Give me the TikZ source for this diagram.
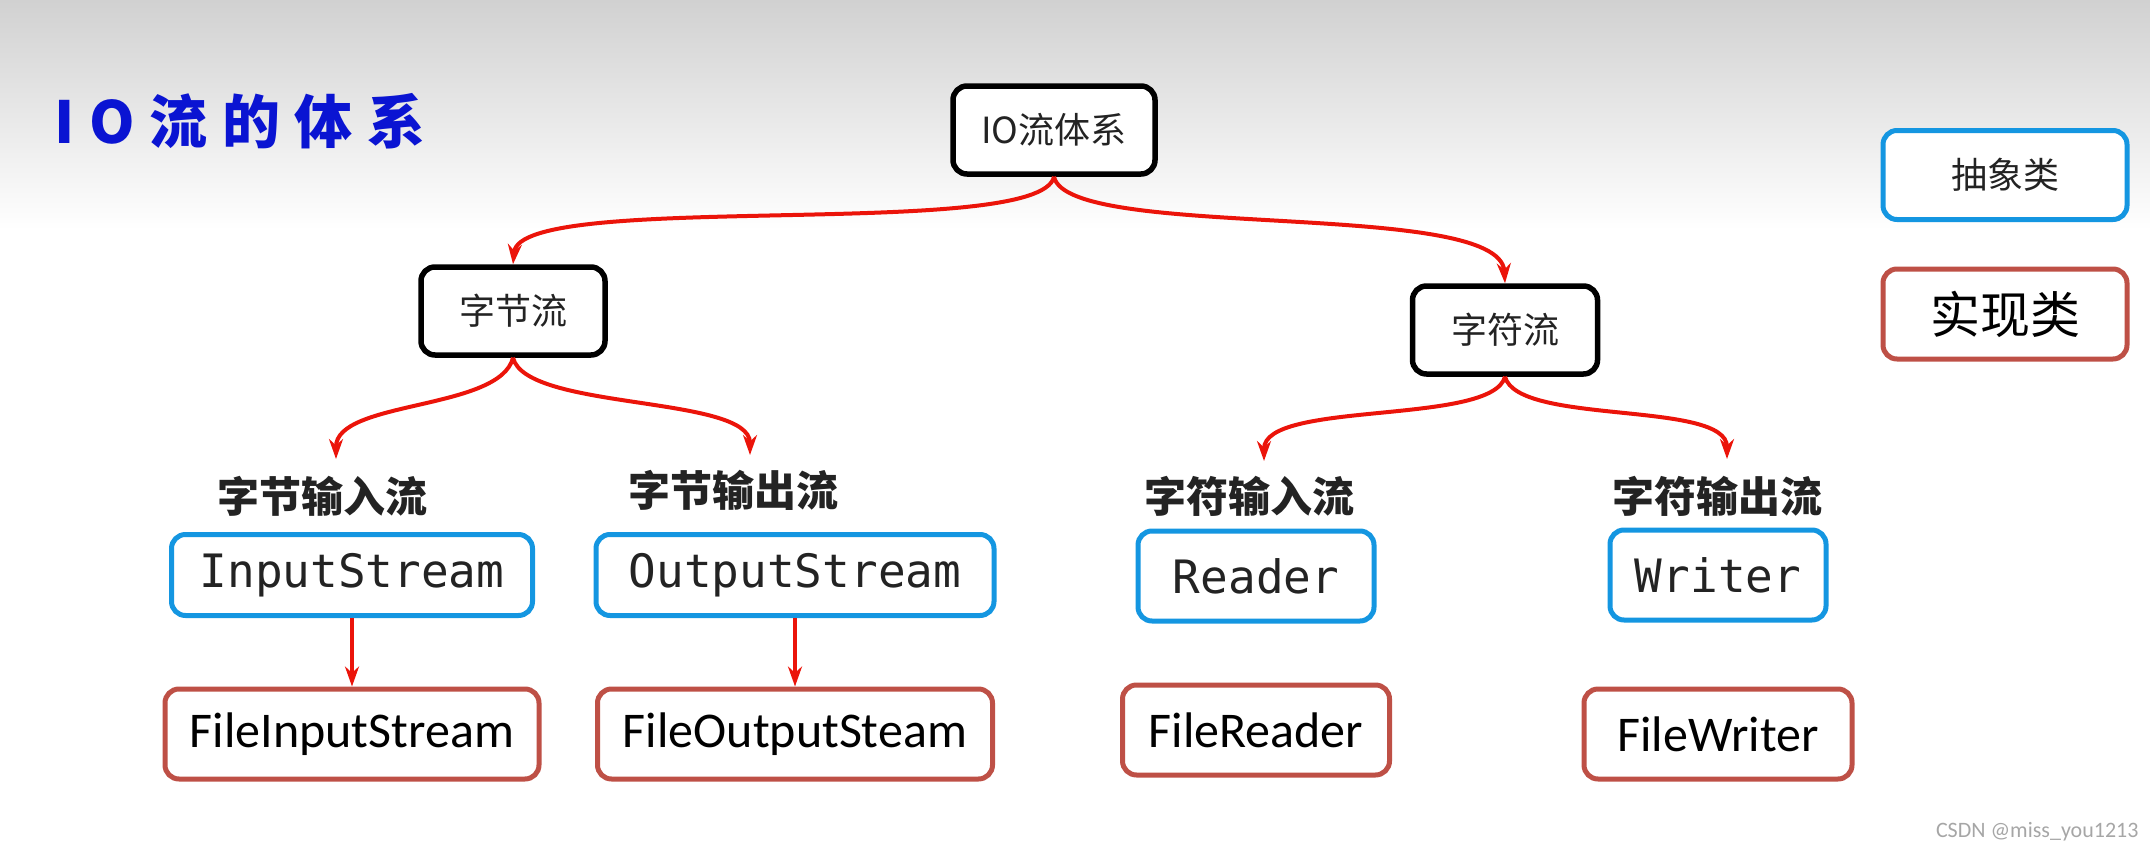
\documentclass[tikz,border=0pt]{standalone}
\usepackage{fontspec}
\newfontfamily\cjk{Noto Sans CJK SC}
\newfontfamily\cjktitle[LetterSpace=25]{Noto Sans CJK SC}
\newfontfamily\codefont{DejaVu Sans Mono}
\newfontfamily\implfont{Carlito}
\usetikzlibrary{arrows.meta}
\definecolor{abstractblue}{RGB}{20,150,225}
\definecolor{implred}{RGB}{190,80,70}
\definecolor{linkred}{RGB}{235,20,10}
\definecolor{titleblue}{RGB}{10,20,210}
\definecolor{boxtext}{RGB}{35,35,35}

\begin{document}
\begin{tikzpicture}[x=1pt,y=-1pt,>={Stealth[length=20pt,width=14pt]},
  group node/.style={draw=black,line width=5.5pt,rounded corners=14pt,fill=white,
    font=\cjk\fontsize{36}{42}\selectfont,text=boxtext,minimum height=88pt},
  abstract node/.style={draw=abstractblue,line width=5pt,rounded corners=14pt,fill=white,
    text=boxtext,minimum height=84pt},
  impl node/.style={draw=implred,line width=5pt,rounded corners=14pt,fill=white,
    text=black,minimum height=90pt},
  label node/.style={font=\cjk\bfseries\fontsize{42}{50}\selectfont,text=boxtext},
  link/.style={->,draw=linkred,line width=4pt}]
  \useasboundingbox (0,0) rectangle (2150,854);
  \fill[top color=black!18,bottom color=white] (0,0) rectangle (2150,230);

  \node[font=\cjktitle\bfseries\fontsize{58}{66}\selectfont,text=titleblue] (title) at (240,121) {IO流的体系};

  \node[group node,minimum width=202pt] (io)   at (1054,130) {IO流体系};
  \node[group node,minimum width=184pt] (byte) at (513,311)  {字节流};
  \node[group node,minimum width=185pt] (char) at (1505,330) {字符流};

  \node[abstract node,minimum width=244pt,minimum height=89pt,
    font=\cjk\fontsize{36}{42}\selectfont] (abstract) at (2005,175) {抽象类};
  \node[impl node,minimum width=244pt,
    font=\cjk\fontsize{50}{58}\selectfont] (impl) at (2005,314) {实现类};

  \node[label node] (byteIn)  at (322,496)  {字节输入流};
  \node[label node] (byteOut) at (733,490)  {字节输出流};
  \node[label node] (charIn)  at (1249,496) {字符输入流};
  \node[label node] (charOut) at (1717,496) {字符输出流};

  \node[abstract node,minimum width=361pt,minimum height=81pt,
    font=\codefont\fontsize{46}{54}\selectfont] (in)     at (352,575)  {InputStream};
  \node[abstract node,minimum width=398pt,minimum height=81pt,
    font=\codefont\fontsize{46}{54}\selectfont] (out)    at (795,575)  {OutputStream};
  \node[abstract node,minimum width=236pt,minimum height=90pt,
    font=\codefont\fontsize{46}{54}\selectfont] (reader) at (1256,576) {Reader};
  \node[abstract node,minimum width=216pt,minimum height=90pt,
    font=\codefont\fontsize{46}{54}\selectfont] (writer) at (1718,575) {Writer};

  \node[impl node,minimum width=374pt,font=\implfont\fontsize{50}{58}\selectfont]
    (fin)     at (352,734)  {FileInputStream};
  \node[impl node,minimum width=395pt,font=\implfont\fontsize{50}{58}\selectfont]
    (fout)    at (795,734)  {FileOutputSteam};
  \node[impl node,minimum width=267pt,font=\implfont\fontsize{50}{58}\selectfont]
    (freader) at (1256,730) {FileReader};
  \node[impl node,minimum width=268pt,font=\implfont\fontsize{50}{58}\selectfont]
    (fwriter) at (1718,734) {FileWriter};

  \node[font=\implfont\fontsize{22}{26}\selectfont,text=black!35,anchor=east]
    (mark) at (2142,832) {CSDN @miss\_you1213};

  \coordinate (byteInTip)  at (336,459);
  \coordinate (byteOutTip) at (750,455);
  \coordinate (charInTip)  at (1264,461);
  \coordinate (charOutTip) at (1727,459);

  \draw[link] (io.south) .. controls +(-14,65) and +(7,-75) .. (byte.north);
  \draw[link] (io.south) .. controls +(14,65) and +(-5,-85) .. (char.north);
  \draw[link] (byte.south) .. controls +(-13,53) and +(0,-59) .. (byteInTip);
  \draw[link] (byte.south) .. controls +(13,53) and +(0,-60) .. (byteOutTip);
  \draw[link] (char.south) .. controls +(-13,49) and +(0,-61) .. (charInTip);
  \draw[link] (char.south) .. controls +(13,49) and +(0,-59) .. (charOutTip);
  \draw[link] (in) -- (fin);
  \draw[link] (out) -- (fout);
\end{tikzpicture}
\end{document}
